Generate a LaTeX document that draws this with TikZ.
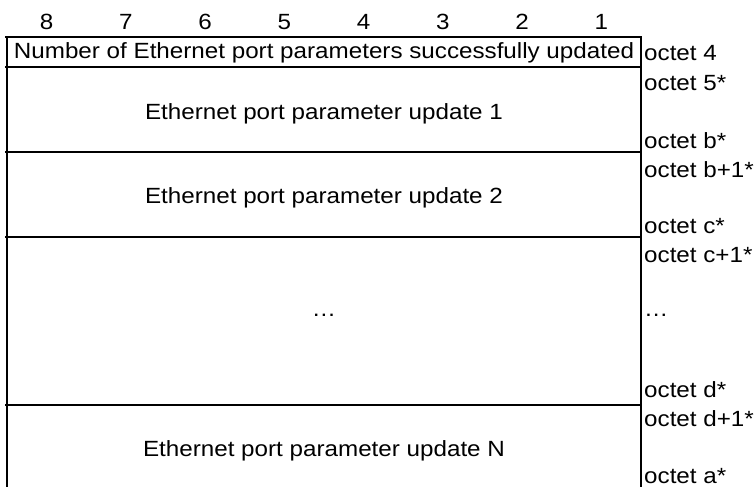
\documentclass[tikz,border=0pt]{standalone}
\usepackage{fontspec}
\setmainfont{Liberation Sans}[FakeStretch=1.1]

\begin{document}
\begin{tikzpicture}
      [x=1pt, y=-1pt,
      every node/.style={font=\fontsize{22pt}{26pt}\selectfont},
      bit/.style={anchor=base},
      field/.style={anchor=base},
      octet/.style={anchor=base west, inner sep=0pt},
      rule/.style={line width=1.6pt},
      ]
      \useasboundingbox (0,0) rectangle (755,487);

      % bit numbers
      \node[bit] (B8) at (46.6,30) {8};
      \node[bit] (B7) at (125.9,30) {7};
      \node[bit] (B6) at (205.1,30) {6};
      \node[bit] (B5) at (284.4,30) {5};
      \node[bit] (B4) at (363.6,30) {4};
      \node[bit] (B3) at (442.9,30) {3};
      \node[bit] (B2) at (522.1,30) {2};
      \node[bit] (B1) at (601.4,30) {1};

      % table
      \draw[rule] (5,37) -- (641,37);
      \draw[rule] (5,67) -- (641,67);
      \draw[rule] (5,152) -- (641,152);
      \draw[rule] (5,237) -- (641,237);
      \draw[rule] (5,405) -- (641,405);
      \draw[rule] (7,36.2) -- (7,487);
      \draw[rule] (641,36.2) -- (641,487);

      \node[field] (F1) at (324,59) {Number of Ethernet port parameters successfully updated};
      \node[field] (F2) at (324,119) {Ethernet port parameter update 1};
      \node[field] (F3) at (324,203) {Ethernet port parameter update 2};
      \node[field] (F4) at (324,316) {…};
      \node[field] (F5) at (324,456) {Ethernet port parameter update N};

      % octet labels
      \node[octet] (O4) at (644,61) {octet 4};
      \node[octet] (O5) at (644,90) {octet 5*};
      \node[octet] (Ob) at (644,148) {octet b*};
      \node[octet] (Ob1) at (644,177) {octet b+1*};
      \node[octet] (Oc) at (644,233) {octet c*};
      \node[octet] (Oc1) at (644,262) {octet c+1*};
      \node[octet] (Odots) at (644,316) {…};
      \node[octet] (Od) at (644,397) {octet d*};
      \node[octet] (Od1) at (644,426) {octet d+1*};
      \node[octet] (Oa) at (644,483) {octet a*};
    \end{tikzpicture}
\end{document}
